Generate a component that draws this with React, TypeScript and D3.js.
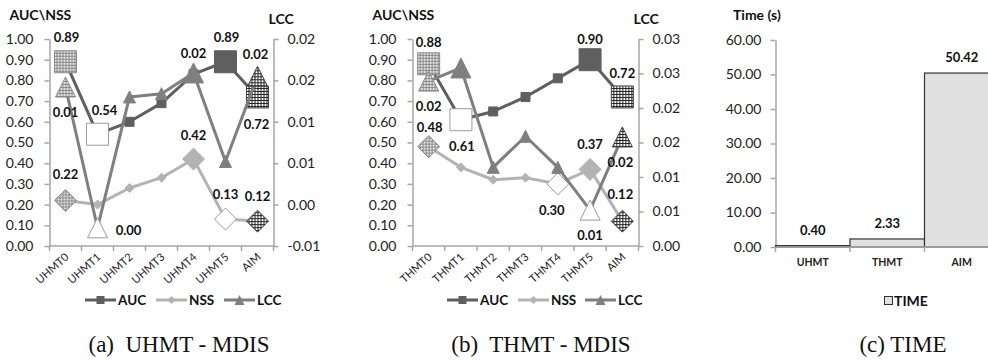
"use client";
import * as d3 from 'd3';
import { useRef, useEffect } from 'react';

// (a) UHMT - MDIS
const uhmtCategories = ['UHMT0', 'UHMT1', 'UHMT2', 'UHMT3', 'UHMT4', 'UHMT5', 'AIM'];
const uhmtAuc = [0.89, 0.54, 0.60, 0.69, 0.83, 0.89, 0.72];
const uhmtNss = [0.22, 0.20, 0.28, 0.33, 0.42, 0.13, 0.12];
const uhmtLcc = [0.0142, -0.0028, 0.0130, 0.0134, 0.0159, 0.0052, 0.0155];

// (b) THMT - MDIS
const thmtCategories = ['THMT0', 'THMT1', 'THMT2', 'THMT3', 'THMT4', 'THMT5', 'AIM'];
const thmtAuc = [0.88, 0.61, 0.65, 0.72, 0.81, 0.90, 0.72];
const thmtNss = [0.48, 0.38, 0.32, 0.33, 0.30, 0.37, 0.12];
const thmtLcc = [0.0239, 0.0258, 0.0114, 0.0159, 0.0114, 0.0052, 0.0158];

// (c) TIME
const timeCategories = ['UHMT', 'THMT', 'AIM'];
const timeValues = [0.40, 2.33, 50.42];

// tick values
const leftTicks = [0, 0.1, 0.2, 0.3, 0.4, 0.5, 0.6, 0.7, 0.8, 0.9, 1.0];
const uhmtLccTicks = [-0.005, 0, 0.005, 0.01, 0.015, 0.02];
const thmtLccTicks = [0, 0.005, 0.01, 0.015, 0.02, 0.025, 0.03];
const timeTicks = [0, 10, 20, 30, 40, 50, 60];

type Role = 'first' | 'min' | 'max' | 'last' | 'plain';
type Shape = 'square' | 'diamond' | 'triangle';

// which points got the highlighted markers (styling, not data)
const uhmtAucRoles: Role[] = ['first', 'min', 'plain', 'plain', 'plain', 'max', 'last'];
const uhmtNssRoles: Role[] = ['first', 'plain', 'plain', 'plain', 'max', 'min', 'last'];
const uhmtLccRoles: Role[] = ['first', 'min', 'plain', 'plain', 'max', 'plain', 'last'];
const thmtAucRoles: Role[] = ['first', 'min', 'plain', 'plain', 'plain', 'max', 'last'];
const thmtNssRoles: Role[] = ['first', 'plain', 'plain', 'plain', 'min', 'max', 'last'];
const thmtLccRoles: Role[] = ['first', 'max', 'plain', 'plain', 'plain', 'min', 'last'];

// data label offsets from marker (null = no label)
type Off = [number, number] | null;
const uhmtAucLabels: Off[] = [[1, -25], [7, -24], null, null, null, [1, -25], [-1, 27]];
const uhmtNssLabels: Off[] = [[0, -26], null, null, null, [0, -24], [0, -25], [0, -25]];
const uhmtLccLabels: Off[] = [[0, 25], [31, 2], null, null, [0, -20], null, [-2, -22]];
const thmtAucLabels: Off[] = [[0, -22], [1, 26], null, null, null, [0, -21], [0, -24]];
const thmtNssLabels: Off[] = [[1, -20], null, null, null, [-6, 26], [0, -25], [-2, -27]];
const thmtLccLabels: Off[] = [[0, 25], null, null, null, null, [0, 25], [-2, 25]];

const SANS = 'Lato, "Open Sans", sans-serif';
const SERIF = '"Liberation Serif", "Times New Roman", serif';
const AXIS_GREY = '#a6a6a6';

function fmt2(v: number) {
  const r = (Math.sign(v) * Math.round(Math.abs(v) * 100 + 1e-9)) / 100;
  const s = r.toFixed(2);
  return s === '-0.00' ? '0.00' : s;
}

function markerPath(shape: Shape, size: number) {
  const h = size / 2;
  if (shape === 'square') return `M${-h},${-h}H${h}V${h}H${-h}Z`;
  if (shape === 'diamond') return `M0,${-h}L${h},0L0,${h}L${-h},0Z`;
  return `M0,${-h}L${h},${h}L${-h},${h}Z`;
}

interface SeriesDef {
  name: string;
  values: number[];
  axis: 'left' | 'right';
  color: string;
  shape: Shape;
  small: number;
  big: number;
  roles: Role[];
  labels: Off[];
}

interface LinePanel {
  x0: number;
  x1: number;
  categories: string[];
  rightDomain: [number, number];
  rightTicks: number[];
  series: SeriesDef[];
  legendX: number[];
  captionX: number;
  caption: string;
}

const yTop = 39;
const yBot = 246;

function drawLinePanel(svg: d3.Selection<SVGSVGElement, unknown, null, undefined>, p: LinePanel) {
  const g = svg.append('g');
  const x = d3.scaleBand().domain(p.categories).range([p.x0, p.x1]).padding(0);
  const xc = (i: number) => x(p.categories[i])! + x.bandwidth() / 2;
  const yL = d3.scaleLinear().domain([0, 1]).range([yBot, yTop]);
  const yR = d3.scaleLinear().domain(p.rightDomain).range([yBot, yTop]);

  // axes
  const left = g.append('g').attr('transform', `translate(${p.x0},0)`)
    .call(d3.axisLeft(yL).tickValues(leftTicks).tickFormat(d => fmt2(+d)).tickSizeInner(5).tickSizeOuter(0).tickPadding(11));
  const right = g.append('g').attr('transform', `translate(${p.x1},0)`)
    .call(d3.axisRight(yR).tickValues(p.rightTicks).tickFormat(d => fmt2(+d)).tickSizeInner(5).tickSizeOuter(0).tickPadding(9));
  [left, right].forEach(a => {
    a.attr('font-family', SANS).attr('font-size', 14);
    a.selectAll('path, line').attr('stroke', AXIS_GREY).attr('stroke-width', 1.5);
    a.selectAll('text').attr('fill', '#222');
  });

  g.append('line').attr('x1', p.x0).attr('x2', p.x1).attr('y1', yBot).attr('y2', yBot)
    .attr('stroke', AXIS_GREY).attr('stroke-width', 1.5);
  const bounds = p.categories.map(c => x(c)!).concat([p.x1]);
  g.selectAll('.xt').data(bounds).enter().append('line')
    .attr('x1', d => d).attr('x2', d => d).attr('y1', yBot).attr('y2', yBot + 5)
    .attr('stroke', AXIS_GREY).attr('stroke-width', 1.5);
  g.selectAll('.xl').data(p.categories).enter().append('text')
    .attr('transform', (d, i) => `translate(${xc(i) + 4},${yBot + 12}) rotate(-42)`)
    .attr('text-anchor', 'end').attr('font-family', SANS).attr('font-size', 11).attr('fill', '#222')
    .text(d => d);

  // axis titles
  g.append('text').attr('x', p.x0 - 40).attr('y', 20).attr('font-family', SANS).attr('font-weight', 700)
    .attr('font-size', 14).attr('fill', '#111').text('AUC\\NSS');
  g.append('text').attr('x', p.x1 - 5).attr('y', 24).attr('font-family', SANS).attr('font-weight', 700)
    .attr('font-size', 14).attr('fill', '#111').text('LCC');

  const roleFill = (s: SeriesDef, r: Role) =>
    r === 'first' ? 'url(#patFirst)' : r === 'last' ? 'url(#patLast)' : r === 'min' ? '#fff' : s.color;
  const roleStroke = (s: SeriesDef, r: Role) =>
    r === 'first' ? '#8a8a8a' : r === 'last' ? '#444' : r === 'min' ? '#9a9a9a' : s.color;

  // series
  p.series.forEach(s => {
    const ys = s.axis === 'left' ? yL : yR;
    const line = d3.line<number>().x((d, i) => xc(i)).y(d => ys(d));
    g.append('path').attr('d', line(s.values)!).attr('fill', 'none')
      .attr('stroke', s.color).attr('stroke-width', 3).attr('stroke-linejoin', 'round');
    g.selectAll(null).data(s.values).enter().append('path')
      .attr('transform', (d, i) => `translate(${xc(i)},${ys(d)})`)
      .attr('d', (d, i) => markerPath(s.shape, s.roles[i] === 'plain' ? s.small : s.big))
      .attr('fill', (d, i) => roleFill(s, s.roles[i]))
      .attr('stroke', (d, i) => roleStroke(s, s.roles[i]))
      .attr('stroke-width', 1);
  });

  // data labels
  p.series.forEach(s => {
    const ys = s.axis === 'left' ? yL : yR;
    s.values.forEach((v, i) => {
      const off = s.labels[i];
      if (!off) return;
      g.append('text').attr('x', xc(i) + off[0]).attr('y', ys(v) + off[1])
        .attr('text-anchor', 'middle').attr('dominant-baseline', 'central')
        .attr('font-family', SANS).attr('font-weight', 700).attr('font-size', 13).attr('fill', '#111')
        .text(fmt2(v));
    });
  });

  // legend
  p.series.forEach((s, k) => {
    const lx = p.legendX[k];
    const ly = 300;
    g.append('line').attr('x1', lx).attr('x2', lx + 31).attr('y1', ly).attr('y2', ly)
      .attr('stroke', s.color).attr('stroke-width', 3);
    g.append('path').attr('transform', `translate(${lx + 15.5},${ly})`)
      .attr('d', markerPath(s.shape, s.shape === 'triangle' ? 10 : 8)).attr('fill', s.color);
    g.append('text').attr('x', lx + 33).attr('y', ly).attr('dominant-baseline', 'central')
      .attr('font-family', SANS).attr('font-weight', 700).attr('font-size', 13.5).attr('fill', '#111')
      .text(s.name);
  });

  g.append('text').attr('x', p.captionX).attr('y', 352).attr('text-anchor', 'middle')
    .attr('font-family', SERIF).attr('font-size', 23).attr('fill', '#111')
    .attr('xml:space', 'preserve').text(p.caption);
}

function drawTimePanel(svg: d3.Selection<SVGSVGElement, unknown, null, undefined>) {
  const g = svg.append('g');
  const x0 = 775.5;
  const x = d3.scaleBand().domain(timeCategories).range([x0, x0 + 3 * 74.5]).padding(0);
  const y = d3.scaleLinear().domain([0, 60]).range([247, 40]);

  const ax = g.append('g').attr('transform', `translate(${x0},0)`)
    .call(d3.axisLeft(y).tickValues(timeTicks).tickFormat(d => (+d).toFixed(2)).tickSizeInner(5).tickSizeOuter(0).tickPadding(9));
  ax.attr('font-family', SANS).attr('font-size', 14);
  ax.selectAll('path, line').attr('stroke', AXIS_GREY).attr('stroke-width', 1.5);
  ax.selectAll('text').attr('fill', '#222');

  g.selectAll('.bar').data(timeValues).enter().append('rect')
    .attr('x', (d, i) => x(timeCategories[i])!)
    .attr('y', d => y(d))
    .attr('width', x.bandwidth())
    .attr('height', d => y(0) - y(d))
    .attr('fill', '#e0e0e0').attr('stroke', '#333').attr('stroke-width', 1.2);

  g.append('line').attr('x1', x0).attr('x2', x0 + 3 * 74.5).attr('y1', 247).attr('y2', 247)
    .attr('stroke', AXIS_GREY).attr('stroke-width', 1.5);
  const bounds = timeCategories.map(c => x(c)!).concat([x0 + 3 * 74.5]);
  g.selectAll('.xt').data(bounds).enter().append('line')
    .attr('x1', d => d).attr('x2', d => d).attr('y1', 247).attr('y2', 252)
    .attr('stroke', AXIS_GREY).attr('stroke-width', 1.5);
  g.selectAll('.xl').data(timeCategories).enter().append('text')
    .attr('x', d => x(d)! + x.bandwidth() / 2).attr('y', 262).attr('text-anchor', 'middle')
    .attr('dominant-baseline', 'central').attr('font-family', SANS).attr('font-weight', 700)
    .attr('font-size', 10.5).attr('fill', '#222').text(d => d);

  g.selectAll('.vl').data(timeValues).enter().append('text')
    .attr('x', (d, i) => x(timeCategories[i])! + x.bandwidth() / 2)
    .attr('y', d => y(d) - 16).attr('text-anchor', 'middle').attr('dominant-baseline', 'central')
    .attr('font-family', SANS).attr('font-weight', 700).attr('font-size', 13).attr('fill', '#111')
    .text(d => d.toFixed(2));

  g.append('text').attr('x', 733).attr('y', 20).attr('font-family', SANS).attr('font-weight', 700)
    .attr('font-size', 14).attr('fill', '#111').text('Time (s)');

  g.append('rect').attr('x', 884.5).attr('y', 296.5).attr('width', 8).attr('height', 8)
    .attr('fill', '#e0e0e0').attr('stroke', '#333').attr('stroke-width', 1);
  g.append('text').attr('x', 894).attr('y', 300).attr('dominant-baseline', 'central')
    .attr('font-family', SANS).attr('font-weight', 700).attr('font-size', 14).attr('fill', '#111')
    .text('TIME');

  g.append('text').attr('x', 903).attr('y', 352).attr('text-anchor', 'middle')
    .attr('font-family', SERIF).attr('font-size', 23).attr('fill', '#111').text('(c) TIME');
}

const App: React.FC = () => {
  const ref = useRef<SVGSVGElement>(null);

  useEffect(() => {
    if (!ref.current) return;
    const svg = d3.select(ref.current);
    svg.selectAll('*').remove();

    const defs = svg.append('defs');
    const pf = defs.append('pattern').attr('id', 'patFirst').attr('width', 3).attr('height', 3)
      .attr('patternUnits', 'userSpaceOnUse');
    pf.append('rect').attr('width', 3).attr('height', 3).attr('fill', '#e6e6e6');
    pf.append('rect').attr('width', 3).attr('height', 1).attr('fill', '#888');
    pf.append('rect').attr('width', 1).attr('height', 3).attr('fill', '#888');
    const pl = defs.append('pattern').attr('id', 'patLast').attr('width', 3).attr('height', 3)
      .attr('patternUnits', 'userSpaceOnUse');
    pl.append('rect').attr('width', 3).attr('height', 3).attr('fill', '#fff');
    pl.append('rect').attr('width', 3).attr('height', 1).attr('fill', '#222');
    pl.append('rect').attr('width', 1).attr('height', 3).attr('fill', '#222');

    const mk = (name: string, values: number[], axis: 'left' | 'right', roles: Role[], labels: Off[]): SeriesDef => {
      const style: Record<string, [string, Shape, number, number]> = {
        AUC: ['#5f5f5f', 'square', 9, 22],
        NSS: ['#b3b3b3', 'diamond', 9, 22],
        LCC: ['#7f7f7f', 'triangle', 12, 20],
      };
      const [color, shape, small, big] = style[name];
      return { name, values, axis, color, shape, small, big, roles, labels };
    };

    drawLinePanel(svg, {
      x0: 49.5, x1: 273.5, categories: uhmtCategories,
      rightDomain: [-0.005, 0.02], rightTicks: uhmtLccTicks,
      series: [
        mk('AUC', uhmtAuc, 'left', uhmtAucRoles, uhmtAucLabels),
        mk('NSS', uhmtNss, 'left', uhmtNssRoles, uhmtNssLabels),
        mk('LCC', uhmtLcc, 'right', uhmtLccRoles, uhmtLccLabels),
      ],
      legendX: [85, 156, 224], captionX: 179, caption: '(a)  UHMT - MDIS',
    });

    drawLinePanel(svg, {
      x0: 412.5, x1: 638.5, categories: thmtCategories,
      rightDomain: [0, 0.03], rightTicks: thmtLccTicks,
      series: [
        mk('AUC', thmtAuc, 'left', thmtAucRoles, thmtAucLabels),
        mk('NSS', thmtNss, 'left', thmtNssRoles, thmtNssLabels),
        mk('LCC', thmtLcc, 'right', thmtLccRoles, thmtLccLabels),
      ],
      legendX: [447, 518, 585], captionX: 541, caption: '(b)  THMT - MDIS',
    });

    drawTimePanel(svg);
  }, []);

  return (
    <svg ref={ref} width={988} height={360}
      style={{ position: 'absolute', left: 0, top: 0, background: '#fff' }} />
  );
};

export default App;
